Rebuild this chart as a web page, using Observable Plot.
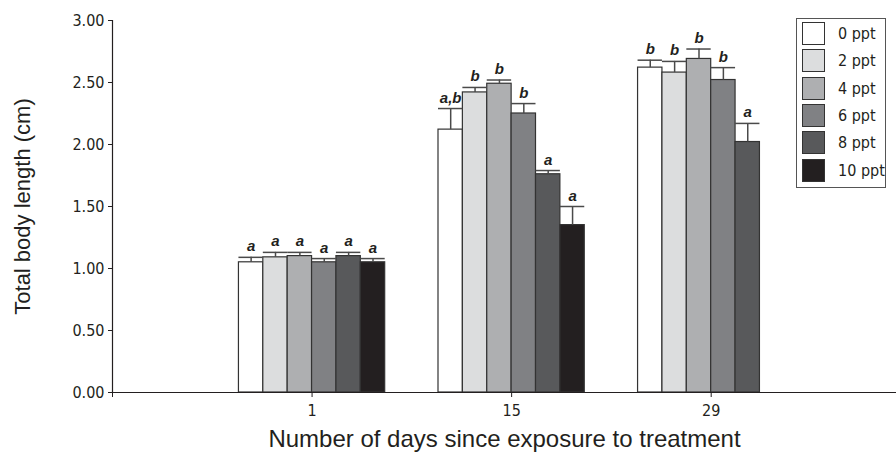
<!DOCTYPE html>
<html>
<head>
<meta charset="utf-8">
<script src="https://cdn.jsdelivr.net/npm/d3@7"></script>
<script src="https://cdn.jsdelivr.net/npm/@observablehq/plot@0.6"></script>
<style>
  html, body { margin: 0; padding: 0; background: #fff; }
  #wrap { position: relative; width: 896px; height: 458px; }
  #legend {
    position: absolute; left: 796px; top: 18px; width: 90px; height: 170px;
    border: 1px solid #555; background: #fff; box-sizing: border-box;
    font-family: "DejaVu Sans Condensed", "Liberation Sans", sans-serif;
    font-size: 16px; color: #231f20;
  }
  .row { position: absolute; left: 5px; height: 23px; display: flex; align-items: center; white-space: nowrap; }
  .sw { width: 21px; height: 21px; border: 1.5px solid #333; box-sizing: content-box; flex: none; }
  .lab { margin-left: 13px; }
</style>
</head>
<body>
<div id="wrap"></div>
<script>
// Sampling days and salinity treatments
const days = [1, 15, 29];
const treatments = ["0 ppt", "2 ppt", "4 ppt", "6 ppt", "8 ppt", "10 ppt"];
const fills = ["#ffffff", "#dcddde", "#aeafb1", "#808184", "#58595b", "#231f20"];

// Mean total body length (cm) per treatment, and upper error (SE)
const meanDay1  = [1.05, 1.09, 1.10, 1.05, 1.10, 1.05];
const errDay1   = [0.04, 0.04, 0.03, 0.03, 0.03, 0.03];
const meanDay15 = [2.12, 2.42, 2.49, 2.25, 1.76, 1.35];
const errDay15  = [0.17, 0.04, 0.03, 0.08, 0.03, 0.15];
const meanDay29 = [2.62, 2.58, 2.69, 2.52, 2.02, null];
const errDay29  = [0.06, 0.09, 0.08, 0.10, 0.15, null];

// Significance letters
const lettersDay1  = ["a", "a", "a", "a", "a", "a"];
const lettersDay15 = ["a,b", "b", "b", "b", "a", "a"];
const lettersDay29 = ["b", "b", "b", "b", "a", null];

const yTicks = [0, 0.5, 1, 1.5, 2, 2.5, 3];
const xTicks = [1, 15, 29];

const means = [meanDay1, meanDay15, meanDay29];
const errs = [errDay1, errDay15, errDay29];
const letters = [lettersDay1, lettersDay15, lettersDay29];

// bar width in days on the x scale
const bw = 1.71;
const xMin = -13, xMax = 42;

const rows = [];
days.forEach((d, g) => {
  treatments.forEach((t, i) => {
    const m = means[g][i];
    if (m == null) return;
    const x1 = d + (i - 3) * bw;
    rows.push({
      day: d, treatment: t, mean: m, top: m + errs[g][i],
      x1, x2: x1 + bw, xc: x1 + bw / 2, letter: letters[g][i]
    });
  });
});

const font = '"DejaVu Sans Condensed", "Liberation Sans", sans-serif';
const titleFont = '"Liberation Sans", Arial, sans-serif';

const chart = Plot.plot({
  width: 896,
  height: 458,
  marginLeft: 112,
  marginRight: 0,
  marginTop: 20,
  marginBottom: 66,
  style: { fontFamily: font, fontSize: "16px", color: "#231f20", background: "#fff" },
  x: { domain: [xMin, xMax] },
  y: { domain: [0, 3] },
  color: { domain: treatments, range: fills },
  marks: [
    Plot.rect(rows, {
      x1: "x1", x2: "x2", y1: 0, y2: "mean",
      fill: "treatment", stroke: "#333", strokeWidth: 1.2
    }),
    Plot.ruleX(rows, { x: "xc", y1: "mean", y2: "top", stroke: "#4a4a4a", strokeWidth: 1.5 }),
    Plot.ruleY(rows, { y: "top", x1: "x1", x2: "x2", stroke: "#4a4a4a", strokeWidth: 1.5 }),
    Plot.text(rows.filter(r => r.letter), {
      x: "xc", y: "top", text: "letter", dy: -6, lineAnchor: "bottom",
      fontFamily: titleFont, fontWeight: "bold",
      fontStyle: "italic", fontSize: 15, fill: "#231f20"
    }),
    // axis lines
    Plot.ruleX([xMin], { y1: 0, y2: 3, stroke: "#231f20", strokeWidth: 1.2 }),
    Plot.ruleY([0], { stroke: "#231f20", strokeWidth: 1.2 }),
    Plot.axisY({
      ticks: yTicks, tickFormat: d3.format(".2f"), tickSize: 4, tickPadding: 4,
      label: "Total body length (cm)", labelAnchor: "center", labelArrow: "none",
      labelOffset: 98, fontSize: 16
    }),
    Plot.axisX({
      ticks: [xMin, ...xTicks], tickFormat: d => d === xMin ? "" : d,
      tickSize: 5, tickPadding: 7,
      label: "Number of days since exposure to treatment", labelAnchor: "center",
      labelArrow: "none", labelOffset: 54, fontSize: 16
    })
  ]
});

// axis title typography
chart.querySelectorAll('g[aria-label="y-axis label"] text').forEach(t => {
  t.setAttribute("font-size", "22");
  t.setAttribute("font-family", titleFont);
});
chart.querySelectorAll('g[aria-label="x-axis label"] text').forEach(t => {
  t.setAttribute("font-size", "24");
  t.setAttribute("font-family", titleFont);
});

const wrap = document.getElementById("wrap");
wrap.appendChild(chart);

// legend
const legend = document.createElement("div");
legend.id = "legend";
treatments.forEach((t, i) => {
  const row = document.createElement("div");
  row.className = "row";
  row.style.top = (3 + i * 27.3) + "px";
  const sw = document.createElement("div");
  sw.className = "sw";
  sw.style.background = fills[i];
  const lab = document.createElement("span");
  lab.className = "lab";
  lab.textContent = t;
  row.appendChild(sw);
  row.appendChild(lab);
  legend.appendChild(row);
});
wrap.appendChild(legend);
</script>
</body>
</html>
